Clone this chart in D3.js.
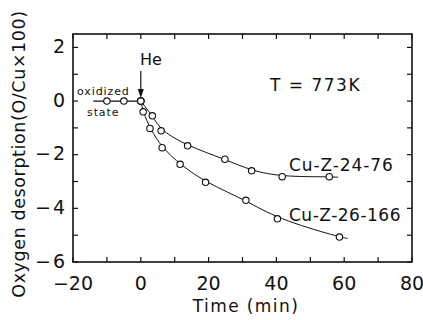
<!DOCTYPE html>
<html>
<head>
<meta charset="utf-8">
<script src="https://cdn.jsdelivr.net/npm/d3@7"></script>
<style>
  body { margin: 0; background: #fff; }
  text { font-family: "DejaVu Sans", sans-serif; fill: #111; }
</style>
</head>
<body>
<div id="chart"></div>
<script>
var svgWidth = 423;
var svgHeight = 320;

// data
var preTime = [-10, -5, 0];
var preValue = [0, 0, 0];

var time24 = [0, 3.4, 6, 13.8, 24.8, 32.7, 41.7, 55.6];
var value24 = [0, -0.55, -1.11, -1.67, -2.17, -2.6, -2.82, -2.82];

var time26 = [0, 0.7, 2.7, 6.3, 11.6, 19.1, 31, 40.3, 58.6];
var value26 = [0, -0.4, -1.02, -1.74, -2.36, -3.03, -3.7, -4.39, -5.07];

var xTicks = [-20, 0, 20, 40, 60, 80];
var yTicks = [2, 0, -2, -4, -6];

var margin = { top: 34, right: 11, bottom: 58, left: 73 };
var width = svgWidth - margin.left - margin.right;
var height = svgHeight - margin.top - margin.bottom;

var svg = d3.select("#chart")
    .append("svg")
    .attr("width", svgWidth)
    .attr("height", svgHeight);

var chartGroup = svg.append("g")
    .attr("transform", `translate(${margin.left}, ${margin.top})`);

var x = d3.scaleLinear().domain([-20, 80]).range([0, width]);
var y = d3.scaleLinear().domain([-6, 2.5]).range([height, 0]);

// frame
chartGroup.append("rect")
    .attr("width", width)
    .attr("height", height)
    .attr("fill", "none")
    .attr("stroke", "#111")
    .attr("stroke-width", 1.6);

// inward ticks
var minorX = d3.range(-20, 81, 10);
var minorY = d3.range(-6, 3, 1);
var tl = 5;
chartGroup.selectAll(".xtb").data(minorX).enter().append("line")
    .attr("x1", d => x(d)).attr("x2", d => x(d))
    .attr("y1", height).attr("y2", height - tl)
    .attr("stroke", "#111").attr("stroke-width", 1.2);
chartGroup.selectAll(".xtt").data(minorX).enter().append("line")
    .attr("x1", d => x(d)).attr("x2", d => x(d))
    .attr("y1", 0).attr("y2", tl)
    .attr("stroke", "#111").attr("stroke-width", 1.2);
chartGroup.selectAll(".ytl").data(minorY).enter().append("line")
    .attr("x1", 0).attr("x2", tl)
    .attr("y1", d => y(d)).attr("y2", d => y(d))
    .attr("stroke", "#111").attr("stroke-width", 1.2);
chartGroup.selectAll(".ytr").data(minorY).enter().append("line")
    .attr("x1", width).attr("x2", width - tl)
    .attr("y1", d => y(d)).attr("y2", d => y(d))
    .attr("stroke", "#111").attr("stroke-width", 1.2);

// tick labels
chartGroup.selectAll(".xl").data(xTicks).enter().append("text")
    .attr("x", d => x(d))
    .attr("y", height + 28)
    .attr("text-anchor", "middle")
    .style("font-size", "19px")
    .text(d => d < 0 ? "\u2212" + Math.abs(d) : d);
// y labels: digit right-aligned, minus drawn as its own text to the left
var yLab = chartGroup.selectAll(".yl").data(yTicks).enter().append("g")
    .attr("transform", d => `translate(-8, ${y(d) + 5.5})`);
yLab.append("text")
    .attr("text-anchor", "end")
    .style("font-size", "19px")
    .text(d => Math.abs(d));
yLab.filter(d => d < 0).append("text")
    .attr("x", -14)
    .attr("text-anchor", "end")
    .style("font-size", "19px")
    .text("\u2212");

// axis titles
svg.append("text")
    .attr("x", 246)
    .attr("y", 312)
    .attr("text-anchor", "middle")
    .style("font-size", "17px")
    .style("letter-spacing", "1.4px")
    .text("Time (min)");
svg.append("text")
    .attr("transform", "translate(25, 154) rotate(-90)")
    .attr("text-anchor", "middle")
    .style("font-size", "17.5px")
    .style("letter-spacing", "0.6px")
    .text("Oxygen desorption(O/Cu\u00d7100)");

// curves
var line = d3.line()
    .x(d => x(d[0]))
    .y(d => y(d[1]))
    .curve(d3.curveBasis);

function drawSeries(ts, vs, endT, endV) {
    var pts = ts.map((t, i) => [t, vs[i]]);
    var curvePts = pts.concat([[endT, endV]]);
    chartGroup.append("path")
        .datum(curvePts)
        .attr("d", line)
        .attr("fill", "none")
        .attr("stroke", "#111")
        .attr("stroke-width", 1);
    chartGroup.selectAll(null).data(pts).enter().append("circle")
        .attr("cx", d => x(d[0]))
        .attr("cy", d => y(d[1]))
        .attr("r", 3.2)
        .attr("fill", "#fff")
        .attr("stroke", "#111")
        .attr("stroke-width", 1.1);
}

// before He
chartGroup.append("line")
    .attr("x1", x(-14)).attr("x2", x(0))
    .attr("y1", y(0)).attr("y2", y(0))
    .attr("stroke", "#111").attr("stroke-width", 1.2);

drawSeries(time24, value24, 58.2, -2.84);
drawSeries(time26, value26, 61, -5.12);

chartGroup.selectAll(".pre").data(preTime).enter().append("circle")
    .attr("cx", d => x(d))
    .attr("cy", (d, i) => y(preValue[i]))
    .attr("r", 3.2)
    .attr("fill", "#fff")
    .attr("stroke", "#111")
    .attr("stroke-width", 1.1);

// annotations
svg.append("text")
    .attr("x", 151).attr("y", 65)
    .attr("text-anchor", "middle")
    .style("font-size", "16px")
    .text("He");
svg.append("line")
    .attr("x1", margin.left + x(0)).attr("x2", margin.left + x(0))
    .attr("y1", 71).attr("y2", 92)
    .attr("stroke", "#111").attr("stroke-width", 1.2);
svg.append("path")
    .attr("d", `M${margin.left + x(0) - 3},89 L${margin.left + x(0) + 3},89 L${margin.left + x(0)},98 Z`)
    .attr("fill", "#111");

svg.append("text")
    .attr("x", 77).attr("y", 95)
    .style("font-size", "11px")
    .style("letter-spacing", "0.9px")
    .text("oxidized");
svg.append("text")
    .attr("x", 87).attr("y", 116)
    .style("font-size", "11px")
    .style("letter-spacing", "0.9px")
    .text("state");

svg.append("text")
    .attr("x", 270).attr("y", 91)
    .style("font-size", "17px")
    .style("letter-spacing", "1.5px")
    .attr("xml:space", "preserve")
    .text("T = 773K");
svg.append("text")
    .attr("x", 289).attr("y", 171)
    .style("font-size", "17px")
    .style("letter-spacing", "0.9px")
    .text("Cu-Z-24-76");
svg.append("text")
    .attr("x", 289).attr("y", 221)
    .style("font-size", "17px")
    .style("letter-spacing", "0.5px")
    .text("Cu-Z-26-166");
</script>
</body>
</html>
